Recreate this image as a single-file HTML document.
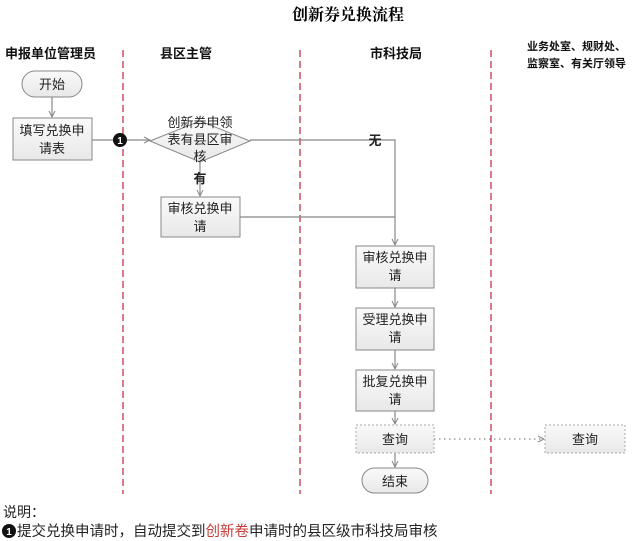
<!DOCTYPE html>
<html><head><meta charset="utf-8"><style>
html,body{margin:0;padding:0;background:#fff;}
svg{display:block;}
text{font-family:"Liberation Sans","Noto Sans CJK SC",sans-serif;}
</style></head><body>
<svg width="640" height="541" viewBox="0 0 640 541" xmlns="http://www.w3.org/2000/svg">
<defs>
<linearGradient id="g" x1="0" y1="0" x2="0" y2="1"><stop offset="0" stop-color="#fafafa"/><stop offset="1" stop-color="#e8e8e8"/></linearGradient>
<marker id="a" markerWidth="8" markerHeight="8" refX="7" refY="4" orient="auto" markerUnits="userSpaceOnUse"><path d="M1,1 L7,4 L1,7" fill="none" stroke="#888" stroke-width="1"/></marker>
</defs>
<text x="348" y="20" text-anchor="middle" font-size="16" font-weight="bold" style="font-family:'Liberation Serif','Noto Serif CJK SC',serif">创新券兑换流程</text>
<g font-size="13" font-weight="bold" fill="#111">
<text x="5" y="58">申报单位管理员</text>
<text x="160" y="58">县区主管</text>
<text x="370" y="58">市科技局</text>
<text x="527" y="50" font-size="11">业务处室、规财处、</text>
<text x="527" y="67" font-size="11">监察室、有关厅领导</text>
</g>
<g stroke="#c8324a" stroke-width="1.3" stroke-dasharray="7,4">
<line x1="123" y1="50" x2="123" y2="494"/>
<line x1="300" y1="50" x2="300" y2="494"/>
<line x1="491" y1="50" x2="491" y2="494"/>
</g>
<g stroke="#888" stroke-width="1.2" fill="none">
<line x1="52" y1="97" x2="52" y2="117" marker-end="url(#a)"/>
<line x1="92" y1="140" x2="150" y2="140" marker-end="url(#a)"/>
<polyline points="250,140 395,140 395,245" marker-end="url(#a)"/>
<line x1="240" y1="217" x2="395" y2="217"/>
<line x1="200" y1="162" x2="200" y2="196" marker-end="url(#a)"/>
<line x1="395" y1="288" x2="395" y2="307" marker-end="url(#a)"/>
<line x1="395" y1="350" x2="395" y2="369" marker-end="url(#a)"/>
<line x1="395" y1="411" x2="395" y2="424" marker-end="url(#a)"/>
<line x1="395" y1="453" x2="395" y2="467" marker-end="url(#a)"/>
<line x1="434" y1="439" x2="544" y2="439" stroke-dasharray="1.5,3.5" marker-end="url(#a)"/>
</g>
<g stroke="#888" stroke-width="1" fill="url(#g)">
<rect x="22" y="71" width="60" height="26" rx="13"/>
<rect x="13" y="118" width="79" height="42"/>
<polygon points="150,141 200,121 250,141 200,162"/>
<rect x="161" y="197" width="79" height="40"/>
<rect x="356" y="246" width="78" height="42"/>
<rect x="356" y="308" width="78" height="42"/>
<rect x="356" y="370" width="78" height="41"/>
<rect x="356" y="425" width="78" height="28" stroke-dasharray="2,2" stroke="#aaa"/>
<rect x="545" y="425" width="80" height="28" stroke-dasharray="2,2" stroke="#aaa"/>
<rect x="362" y="468" width="66" height="25" rx="12.5"/>
</g>
<circle cx="120" cy="140" r="7" fill="#111"/>
<text x="120" y="144" text-anchor="middle" font-size="10" font-weight="bold" fill="#fff">1</text>
<g font-size="13" fill="#222" text-anchor="middle">
<text x="52" y="89">开始</text>
<text x="52" y="135">填写兑换申</text>
<text x="52" y="153">请表</text>
<text x="200" y="127">创新券申领</text>
<text x="200" y="144">表有县区审</text>
<text x="200" y="161">核</text>
<text x="200" y="183" font-weight="bold">有</text>
<text x="375" y="145" font-weight="bold">无</text>
<text x="200" y="213">审核兑换申</text>
<text x="200" y="231">请</text>
<text x="395" y="262">审核兑换申</text>
<text x="395" y="280">请</text>
<text x="395" y="324">受理兑换申</text>
<text x="395" y="342">请</text>
<text x="395" y="386">批复兑换申</text>
<text x="395" y="404">请</text>
<text x="395" y="444">查询</text>
<text x="585" y="444">查询</text>
<text x="395" y="486">结束</text>
</g>
<text x="3" y="517" font-size="14" fill="#222">说明：</text>
<circle cx="9" cy="531" r="7" fill="#111"/>
<text x="9" y="535" text-anchor="middle" font-size="10" font-weight="bold" fill="#fff">1</text>
<text x="17" y="536" font-size="14.5" fill="#222">提交兑换申请时，自动提交到<tspan fill="#c83c3c">创新卷</tspan>申请时的县区级市科技局审核</text>
</svg>
</body></html>
